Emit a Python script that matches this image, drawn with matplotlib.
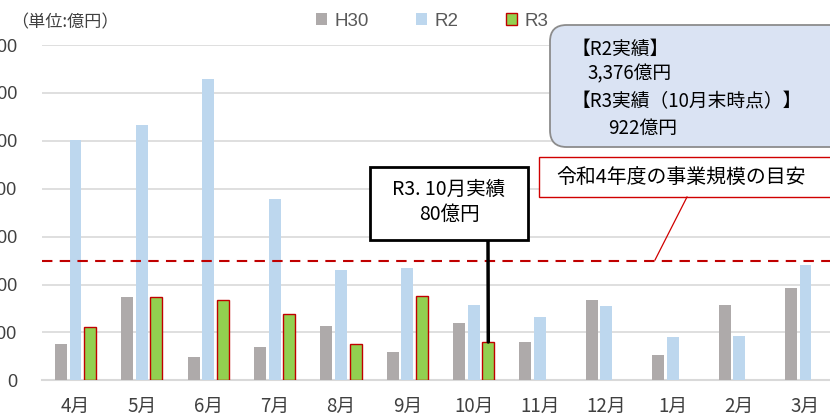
import matplotlib
matplotlib.use("Agg")
import matplotlib.pyplot as plt
import numpy as np
from matplotlib.patches import FancyBboxPatch, Rectangle
from matplotlib.lines import Line2D

months = ["4月", "5月", "6月", "7月", "8月", "9月", "10月", "11月", "12月", "1月", "2月", "3月"]
h30 = [75, 173, 48, 69, 113, 59, 119, 81, 167, 53, 157, 193]
r2 = [502, 532, 630, 378, 231, 235, 158, 133, 155, 90, 92, 240]
r3 = [112, 173, 168, 138, 75, 176, 80]
target = 250
yticks = [0, 100, 200, 300, 400, 500, 600, 700]
series_names = ["H30", "R2", "R3"]

JP = ["Noto Sans CJK JP", "DejaVu Sans"]
LAT = ["Liberation Sans", "DejaVu Sans"]

W, H = 830, 417
fig = plt.figure(figsize=(W / 100, H / 100), dpi=100)

def fx(x):
    return x / W

def fy(y):
    return 1 - y / H

ax = fig.add_axes([fx(42.3), fy(380.3), fx(838.7) - fx(42.3), fy(45) - fy(380.3)])
ax.set_xlim(-0.5, len(months) - 0.5)
ax.set_ylim(0, 700)

x = np.arange(len(months))
bw = 0.18
off = 0.22
c_h30 = "#AEAAAA"
c_r2 = "#BDD7EE"
c_r3 = "#92D050"
ax.bar(x - off, h30, bw, color=c_h30, zorder=3, label="H30")
ax.bar(x, r2, bw, color=c_r2, zorder=3, label="R2")
ax.bar(x[:len(r3)] + off, r3, bw, color=c_r3, edgecolor="#C00000", linewidth=1.0, zorder=3, label="R3")

ax.axhline(target, color="#C00000", linestyle=(0, (5, 3.5)), linewidth=1.5, zorder=4)

ax.set_yticks(yticks)
ax.set_yticklabels([str(v) for v in yticks], family=LAT, fontsize=13, color="#404040")
ax.set_xticks(x)
ax.set_xticklabels(months, family=JP, fontsize=13.5, color="#404040")
ax.tick_params(axis="y", length=0, pad=18)
ax.tick_params(axis="x", length=0, pad=11)
ax.grid(axis="y", color="#D9D9D9", linewidth=1.2, zorder=0)
for s in ["top", "right", "left"]:
    ax.spines[s].set_visible(False)
ax.spines["bottom"].set_color("#D9D9D9")
ax.spines["bottom"].set_linewidth(1.5)

# legend
handles = [
    Rectangle((0, 0), 1, 1, facecolor=c_h30, edgecolor="none"),
    Rectangle((0, 0), 1, 1, facecolor=c_r2, edgecolor="none"),
    Rectangle((0, 0), 1, 1, facecolor=c_r3, edgecolor="#C00000", linewidth=1.0),
]
leg = fig.legend(handles, series_names, loc="center", bbox_to_anchor=(fx(432), fy(21)), ncol=3,
                 frameon=False, handlelength=0.6, handleheight=0.6, handletextpad=0.4,
                 columnspacing=2.5, prop={"family": LAT, "size": 13.5})
for t in leg.get_texts():
    t.set_color("#595959")

# unit label
fig.text(fx(11), fy(22), "（単位:億円）", family=JP, fontsize=12.3, color="#404040", va="center", ha="left")

# blue info box
box = FancyBboxPatch((fx(550), fy(147)), fx(300), fy(25) - fy(147),
                     boxstyle="round,pad=0,rounding_size=0.02", transform=fig.transFigure,
                     facecolor="#DAE3F3", edgecolor="#8C8C8C", linewidth=1.3, zorder=5,
                     mutation_aspect=W / H)
fig.add_artist(box)
info_lines = [("【R2実績】", 572, 49), ("3,376億円", 587, 74),
              ("【R3実績（10月末時点）】", 572, 102), ("922億円", 608, 128)]
for txt, px_, py_ in info_lines:
    fig.text(fx(px_), fy(py_), txt, family=JP, fontsize=13.5, color="black", va="center", ha="left", zorder=6)

# red box
fig.add_artist(Rectangle((fx(539), fy(197)), fx(300), fy(157) - fy(197), transform=fig.transFigure,
                         facecolor="white", edgecolor="#D00000", linewidth=1.0, zorder=5))
fig.text(fx(556), fy(177), "令和4年度の事業規模の目安", family=JP, fontsize=14.3, color="black",
         va="center", ha="left", zorder=6)
fig.add_artist(Line2D([fx(687), fx(655)], [fy(197), fy(260)], transform=fig.transFigure,
                      color="#D00000", linewidth=0.9, zorder=5))

# black callout box
idx = 6
ax.annotate("", xy=(x[idx] + off, r3[idx]), xycoords="data",
            xytext=(fx(488), fy(240)), textcoords="figure fraction",
            arrowprops=dict(arrowstyle="-", color="black", linewidth=2.5, shrinkA=0, shrinkB=0), zorder=6)
fig.add_artist(Rectangle((fx(370), fy(240)), fx(158), fy(167) - fy(240), transform=fig.transFigure,
                         facecolor="white", edgecolor="black", linewidth=2.0, zorder=7))
fig.text(fx(449), fy(202), "R3. 10月実績\n80億円", family=JP, fontsize=14, color="black",
         va="center", ha="center", linespacing=1.25, zorder=8)

fig.savefig("out.png", dpi=100)
